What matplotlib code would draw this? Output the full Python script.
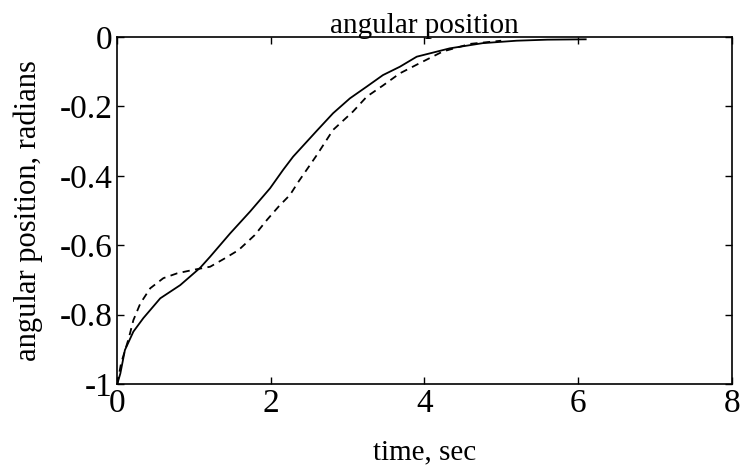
import numpy as np
import matplotlib.pyplot as plt

plt.rcParams['font.family'] = ['Liberation Serif', 'DejaVu Serif']
plt.rcParams['axes.unicode_minus'] = False

# solid curve
t_solid = [0, 0.04, 0.1, 0.21, 0.34, 0.56, 0.82, 0.95, 1.08, 1.21, 1.47, 1.73, 1.99,
           2.16, 2.29, 2.6, 2.81, 3.03, 3.25, 3.46, 3.68, 3.9, 4.33, 4.76, 5.2, 5.6, 6.1]
y_solid = [-1.0, -0.97, -0.902, -0.849, -0.81, -0.753, -0.715, -0.69, -0.665, -0.633,
           -0.566, -0.503, -0.436, -0.383, -0.345, -0.27, -0.22, -0.177, -0.143, -0.11,
           -0.086, -0.057, -0.033, -0.018, -0.011, -0.008, -0.007]

# dashed curve
t_dash = [0, 0.05, 0.15, 0.21, 0.3, 0.43, 0.6, 0.78, 0.99, 1.21, 1.4, 1.58, 1.79,
          1.95, 2.1, 2.25, 2.36, 2.6, 2.81, 3.07, 3.25, 3.46, 3.68, 3.9, 4.24, 4.6, 5.0]
y_dash = [-1.0, -0.94, -0.868, -0.816, -0.768, -0.724, -0.695, -0.681, -0.671, -0.662,
          -0.638, -0.614, -0.571, -0.527, -0.489, -0.455, -0.417, -0.34, -0.268, -0.215,
          -0.172, -0.14, -0.105, -0.08, -0.042, -0.02, -0.011]

fig = plt.figure(figsize=(7.42, 4.73), dpi=100)
ax = fig.add_axes([0.158, 0.188, 0.828, 0.734])

ax.plot(t_solid, y_solid, 'k-', lw=1.3)
ax.plot(t_dash, y_dash, 'k--', lw=1.3, dashes=(4, 3))

ax.set_xlim(0, 8)
ax.set_ylim(-1, 0)
ax.set_xticks([0, 2, 4, 6, 8])
ax.set_yticks([-1, -0.8, -0.6, -0.4, -0.2, 0])
ax.set_yticklabels(['-1', '-0.8', '-0.6', '-0.4', '-0.2', '0'])
ax.tick_params(direction='in', top=True, right=True, length=5, labelsize=24, width=1)
for s in ax.spines.values():
    s.set_linewidth(1.2)

ax.set_title('angular position', fontsize=21, pad=3)
ax.set_xlabel('time, sec', fontsize=21, labelpad=14)
ax.set_ylabel('angular position, radians', fontsize=22, labelpad=12)

fig.savefig('out.png', dpi=100)
